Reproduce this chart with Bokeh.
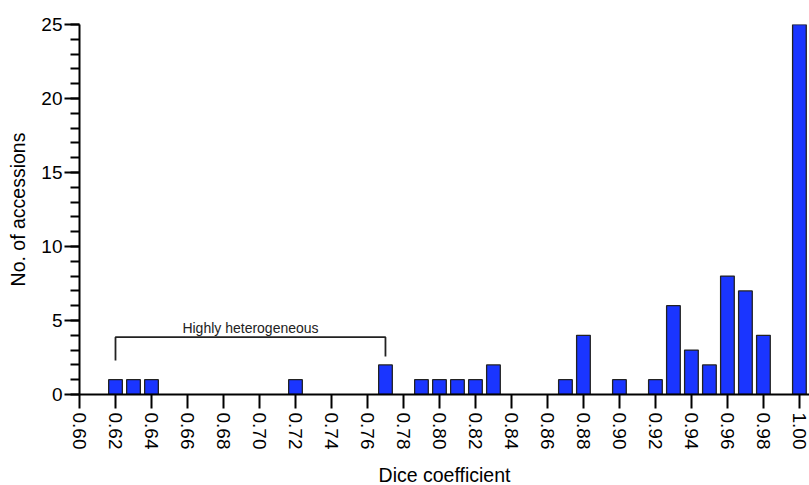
import numpy as np
from bokeh.plotting import figure
from bokeh.models import Range1d, FixedTicker, SingleIntervalTicker, ColumnDataSource
from bokeh.core.properties import value
from bokeh.embed import file_html
from bokeh.resources import INLINE

# ---- data ----
dice = [0.62, 0.63, 0.64, 0.72, 0.77, 0.79, 0.80, 0.81, 0.82, 0.83, 0.87, 0.88,
        0.90, 0.92, 0.93, 0.94, 0.95, 0.96, 0.97, 0.98, 1.00]
counts = [1, 1, 1, 1, 2, 1, 1, 1, 1, 2, 1, 4,
          1, 1, 6, 3, 2, 8, 7, 4, 25]

x_ticks = [0.60, 0.62, 0.64, 0.66, 0.68, 0.70, 0.72, 0.74, 0.76, 0.78, 0.80,
           0.82, 0.84, 0.86, 0.88, 0.90, 0.92, 0.94, 0.96, 0.98, 1.00]
x_tick_labels = ["0.60", "0.62", "0.64", "0.66", "0.68", "0.70", "0.72", "0.74",
                 "0.76", "0.78", "0.80", "0.82", "0.84", "0.86", "0.88", "0.90",
                 "0.92", "0.94", "0.96", "0.98", "1.00"]

bracket_start = 0.62
bracket_end = 0.77
bracket_top = 3.87
bracket_left_foot = 2.3
bracket_right_foot = 2.57
bracket_label = "Highly heterogeneous"

FONT = "Liberation Sans"

p = figure(width=809, height=485, output_backend="svg", toolbar_location=None,
           x_range=Range1d(0.60, 1.0056), y_range=Range1d(0, 25),
           min_border_left=79, min_border_right=0, min_border_top=24,
           min_border_bottom=91, frame_width=730, frame_height=370)
p.outline_line_color = None
p.xgrid.visible = False
p.ygrid.visible = False
p.background_fill_color = "white"
p.border_fill_color = "white"

src = ColumnDataSource(dict(x=dice, top=counts))
p.vbar(x="x", top="top", width=0.0076, bottom=0, source=src,
       fill_color="#1a35ff", line_color="#222222", line_width=1.3)

# bracket annotation
p.line([bracket_start, bracket_start, bracket_end, bracket_end],
       [bracket_left_foot, bracket_top, bracket_top, bracket_right_foot],
       line_color="#222222", line_width=1.8)
p.text(x=[(bracket_start + bracket_end) / 2], y=[4.46], text=[bracket_label],
       text_font=value(FONT), text_font_size="14px", text_align="center",
       text_baseline="alphabetic", text_color="#222222")

# x axis
xa = p.xaxis[0]
xa.ticker = FixedTicker(ticks=x_ticks)
xa.major_label_overrides = {t: l for t, l in zip(x_ticks, x_tick_labels)}
xa.major_label_orientation = "vertical"
xa.minor_tick_line_color = None
xa.major_tick_in = 0
xa.major_tick_out = 14
xa.major_label_standoff = 4
xa.axis_label = "Dice coefficient"
xa.axis_label_standoff = 12

# y axis
ya = p.yaxis[0]
ya.ticker = SingleIntervalTicker(interval=5, num_minor_ticks=5)
ya.major_tick_in = 0
ya.major_tick_out = 15
ya.minor_tick_in = 0
ya.minor_tick_out = 9
ya.major_label_standoff = 2
ya.axis_label = "No. of accessions"
ya.axis_label_standoff = 9

for ax in (xa, ya):
    ax.axis_line_width = 2
    ax.axis_line_color = "black"
    ax.major_tick_line_width = 2
    ax.major_tick_line_color = "black"
    ax.minor_tick_line_width = 2
    ax.major_label_text_font = FONT
    ax.major_label_text_font_size = "19px"
    ax.major_label_text_color = "black"
    ax.axis_label_text_font = FONT
    ax.axis_label_text_font_size = "19.5px"
    ax.axis_label_text_font_style = "normal"
    ax.axis_label_text_color = "black"
ya.minor_tick_line_color = "black"

open("out.html", "w").write(file_html(p, INLINE))
